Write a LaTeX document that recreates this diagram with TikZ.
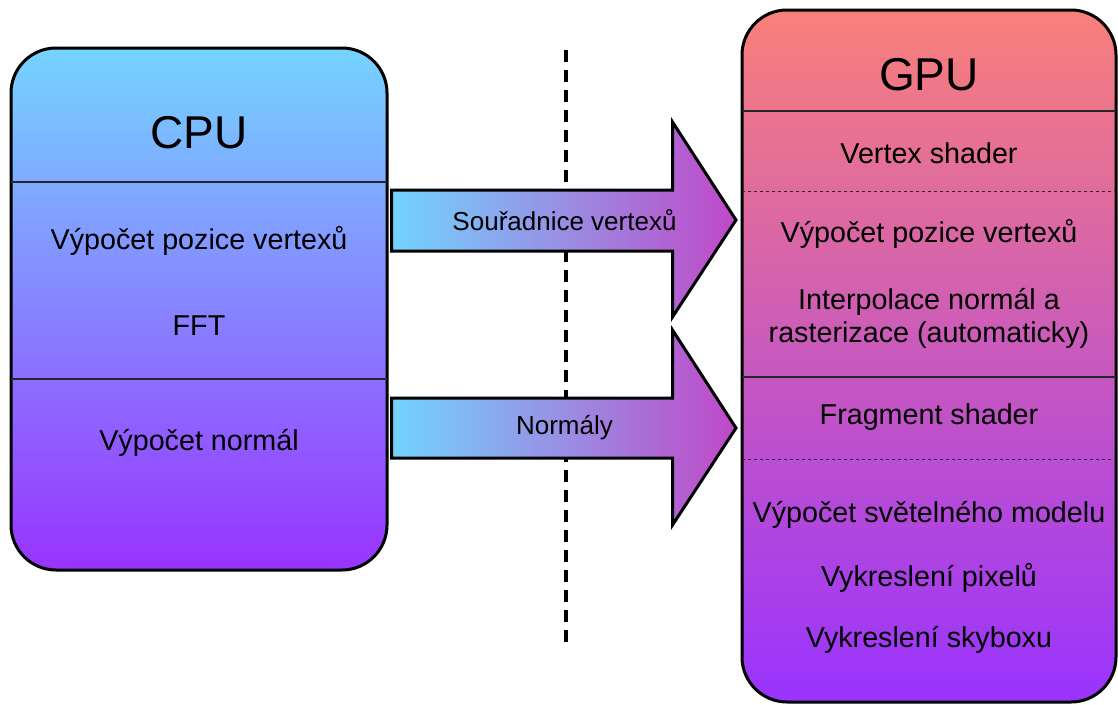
\documentclass[tikz,border=0pt]{standalone}
\usepackage{fontspec}
\setmainfont{Liberation Sans}
\definecolor{cputop}{RGB}{117,212,255}
\definecolor{purp}{RGB}{153,51,255}
\definecolor{gputop}{RGB}{249,128,122}
\definecolor{arrl}{RGB}{114,212,255}
\definecolor{arrr}{RGB}{192,72,200}
\tikzset{
  bigbox/.style={draw=black, line width=3pt, rounded corners=45pt, inner sep=0pt},
  title/.style={font=\fontsize{46}{50}\selectfont, inner sep=0pt},
  item/.style={font=\fontsize{28.7}{33}\selectfont, inner sep=0pt, align=center},
  alabel/.style={font=\fontsize{26}{30}\selectfont, inner sep=0pt},
  solidsep/.style={line width=1.4pt, black!85},
  dotsep/.style={line width=1pt, black!85, dash pattern=on 3pt off 3pt},
  blockarrow/.style={left color=arrl, right color=arrr, draw=black, line width=3pt, line join=miter},
  vdash/.style={line width=4pt, dash pattern=on 12pt off 8pt}
}
\begin{document}
\begin{tikzpicture}[x=1pt,y=-1pt]
\useasboundingbox (0,0) rectangle (1118,704);
% CPU box
\node[bigbox, top color=cputop, bottom color=purp, minimum width=376pt, minimum height=522pt] (cpu) at (199,309) {};
\draw[solidsep] (11,182) -- (387,182);
\draw[solidsep] (11,379) -- (387,379);
\node[title] (cputitle) at (199,133) {CPU};
\node[item] (c1) at (199,241) {Výpočet pozice vertexů};
\node[item] (c2) at (199,326) {FFT};
\node[item] (c3) at (199,443) {Výpočet normál};
% GPU box
\node[bigbox, top color=gputop, bottom color=purp, minimum width=374pt, minimum height=692pt] (gpu) at (929,356) {};
\draw[solidsep] (742,111) -- (1116,111);
\draw[dotsep] (742,191) -- (1116,191);
\draw[solidsep] (742,377) -- (1116,377);
\draw[dotsep] (742,459) -- (1116,459);
\node[title] (gputitle) at (929,75) {GPU};
\node[item] (g1) at (929,153) {Vertex shader};
\node[item] (g2) at (929,234) {Výpočet pozice vertexů};
\node[item] (g3) at (929,318) {Interpolace normál a\\[0pt]rasterizace (automaticky)};
\node[item] (g4) at (929,417) {Fragment shader};
\node[item] (g5) at (929,515) {Výpočet světelného modelu};
\node[item] (g6) at (929,578) {Vykreslení pixelů};
\node[item] (g7) at (929,640) {Vykreslení skyboxu};
% dashed separator
\coordinate (dtop) at (566,50);
\coordinate (dbot) at (566,646);
\draw[vdash] (dtop) -- (dbot);
% block arrows
\shadedraw[blockarrow] (391.5,190) -- (672.5,190) -- (672.5,122) -- (736,220) -- (672.5,317) -- (672.5,251) -- (391.5,251) -- cycle;
\node[alabel] (a1) at (564.5,220) {Souřadnice vertexů};
\shadedraw[blockarrow] (391.5,398) -- (672.5,398) -- (672.5,330) -- (736,428) -- (672.5,525) -- (672.5,458) -- (391.5,458) -- cycle;
\node[alabel] (a2) at (564.5,428) {Normály};
\end{tikzpicture}
\end{document}
